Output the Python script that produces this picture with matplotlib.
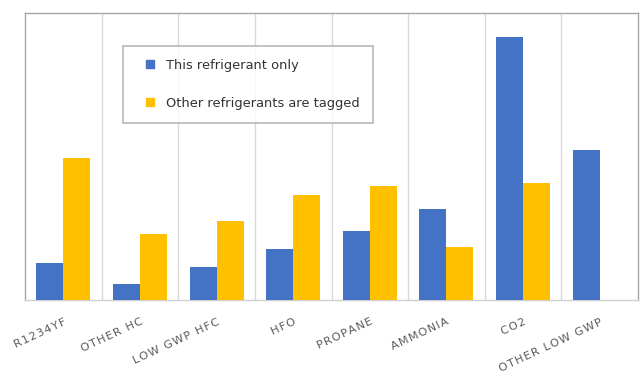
import matplotlib
matplotlib.use("Agg")
import matplotlib.pyplot as plt
from matplotlib.lines import Line2D
import numpy as np

categories = ["R1234YF", "OTHER HC", "LOW GWP HFC", "HFO", "PROPANE", "AMMONIA", "CO2", "OTHER LOW GWP"]
this_only = [37, 16, 33, 51, 69, 91, 263, 150]
others_tagged = [142, 66, 79, 105, 114, 53, 117, 0]
series_names = ["This refrigerant only", "Other refrigerants are tagged"]
colors = ["#4472C4", "#FFC000"]

fig = plt.figure(figsize=(6.4, 3.74), dpi=100)
ax = fig.add_axes([25/640, 74/374, 613/640, 287/374])

x = np.arange(len(categories))
w = 0.352
ax.bar(x - w/2, this_only, width=w, color=colors[0], zorder=3)
ax.bar(x + w/2, others_tagged, width=w, color=colors[1], zorder=3)

ax.set_xlim(-0.5, len(categories) - 0.5)
ax.set_ylim(0, 287)
ax.set_yticks([])
for b in np.arange(0.5, len(categories) - 0.5, 1):
    ax.axvline(b, color="#d9d9d9", lw=1.0, zorder=1)

ax.set_xticks(x)
spaced = ["\u200a".join(c) for c in categories]
ax.set_xticklabels(spaced, rotation=25, ha="right", rotation_mode="anchor",
                   fontsize=8.1, color="#595959", family="DejaVu Sans")
ax.tick_params(axis="x", length=0, pad=12)
for s in ax.spines.values():
    s.set_color("#a6a6a6")
    s.set_linewidth(1.0)
ax.spines["bottom"].set_color("#d0d0d0")

handles = [Line2D([], [], ls="none", marker="s", markersize=6, color=c) for c in colors]
leg = fig.legend(handles, series_names, loc="upper left",
                 bbox_to_anchor=(123/640, 1 - 46/374), fontsize=9.4,
                 frameon=True, fancybox=False, edgecolor="#a6a6a6",
                 borderpad=1.0, labelspacing=1.9, handlelength=2.2,
                 handletextpad=0.1, borderaxespad=0)
leg.get_frame().set_linewidth(1.2)
for t in leg.get_texts():
    t.set_color("#333333")

fig.savefig("out.png", dpi=100)
